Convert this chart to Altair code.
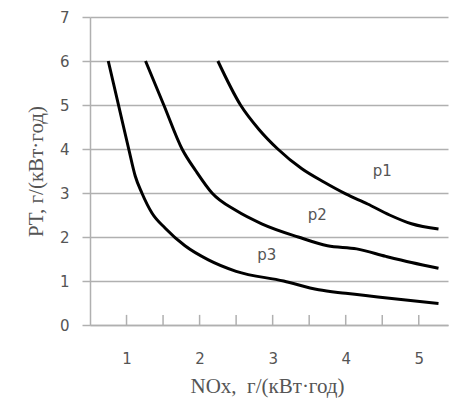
import altair as alt
import pandas as pd

# Curve data
p1_x = [2.25, 2.56, 2.81, 3.07, 3.40, 3.70, 4.00, 4.30, 4.60, 4.90, 5.27]
p1_y = [6.00, 5.00, 4.45, 4.00, 3.55, 3.25, 2.98, 2.75, 2.50, 2.30, 2.18]

p2_x = [1.26, 1.51, 1.76, 1.95, 2.17, 2.50, 2.85, 3.35, 3.75, 4.15, 4.55, 4.90, 5.27]
p2_y = [6.00, 5.00, 4.00, 3.50, 3.00, 2.60, 2.30, 2.00, 1.80, 1.73, 1.56, 1.42, 1.29]

p3_x = [0.75, 0.89, 1.03, 1.12, 1.21, 1.35, 1.53, 1.80, 2.12, 2.50, 3.15, 3.63, 4.00, 4.63, 5.27]
p3_y = [6.00, 5.00, 4.00, 3.38, 3.00, 2.54, 2.20, 1.80, 1.48, 1.22, 1.00, 0.80, 0.72, 0.60, 0.49]

label_text = ["p1", "p2", "p3"]
label_x = [4.50, 3.61, 2.92]
label_y = [3.50, 2.50, 1.59]

x_labels = [1, 2, 3, 4, 5]
x_ticks = [1, 1.5, 2, 2.5, 3, 3.5, 4, 4.5, 5]
y_ticks = [0, 1, 2, 3, 4, 5, 6, 7]

rows = []
for name, xs, ys in [("p1", p1_x, p1_y), ("p2", p2_x, p2_y), ("p3", p3_x, p3_y)]:
    for i, (a, b) in enumerate(zip(xs, ys)):
        rows.append({"series": name, "x": a, "y": b, "order": i})
curves = pd.DataFrame(rows)
labels = pd.DataFrame({"t": label_text, "x": label_x, "y": label_y})
ticks = pd.DataFrame({"x": x_ticks, "y0": [0.0] * len(x_ticks), "y1": [0.23] * len(x_ticks)})

GRAY = "#555555"
GRID = "#b0b0b0"

xscale = alt.Scale(domain=[0.5, 5.4], nice=False, zero=False)
yscale = alt.Scale(domain=[0, 7], nice=False)

xaxis = alt.Axis(
    values=x_labels, format="d", ticks=False, grid=False,
    domainColor=GRID, domainWidth=1.5,
    labelFont="DejaVu Sans", labelFontSize=15, labelColor=GRAY,
    labelBaseline="alphabetic", labelPadding=38,
    title="NOx,\u00a0 г/(кВт·год)", titleFont="Liberation Serif", titleFontSize=21,
    titleFontWeight="normal", titleColor=GRAY,
    titleX=177, titleY=67, titleBaseline="alphabetic",
)
yaxis = alt.Axis(
    values=y_ticks, format="d", grid=True, gridColor=GRID, gridWidth=1.5,
    ticks=True, tickSize=8, tickColor=GRID, tickWidth=1.5,
    domainColor=GRID, domainWidth=1.5,
    labelFont="DejaVu Sans", labelFontSize=15, labelColor=GRAY, labelPadding=13,
    title="PT, г/(кВт·год)", titleFont="Liberation Serif", titleFontSize=21,
    titleFontWeight="normal", titleColor=GRAY,
    titleX=-44, titleY=154, titleAngle=270,
)

tick_marks = alt.Chart(ticks).mark_rule(color=GRID, strokeWidth=1.5).encode(
    x=alt.X("x:Q", scale=xscale, axis=xaxis),
    y=alt.Y("y0:Q", scale=yscale, axis=yaxis),
    y2="y1:Q",
)

lines = alt.Chart(curves).mark_line(color="black", strokeWidth=3, interpolate="monotone").encode(
    x=alt.X("x:Q"),
    y=alt.Y("y:Q"),
    detail="series:N",
    order="order:Q",
)

text = alt.Chart(labels).mark_text(font="DejaVu Sans", fontSize=15, color=GRAY).encode(
    x=alt.X("x:Q"),
    y=alt.Y("y:Q"),
    text="t:N",
)

chart = alt.layer(tick_marks, lines, text).properties(
    width=358, height=308,
    autosize=alt.AutoSizeParams(type="none"),
    padding={"left": 90, "top": 17, "right": 1, "bottom": 83},
).configure_view(stroke=None)

chart.save("out.html", embed_options={"renderer": "svg", "actions": False})
